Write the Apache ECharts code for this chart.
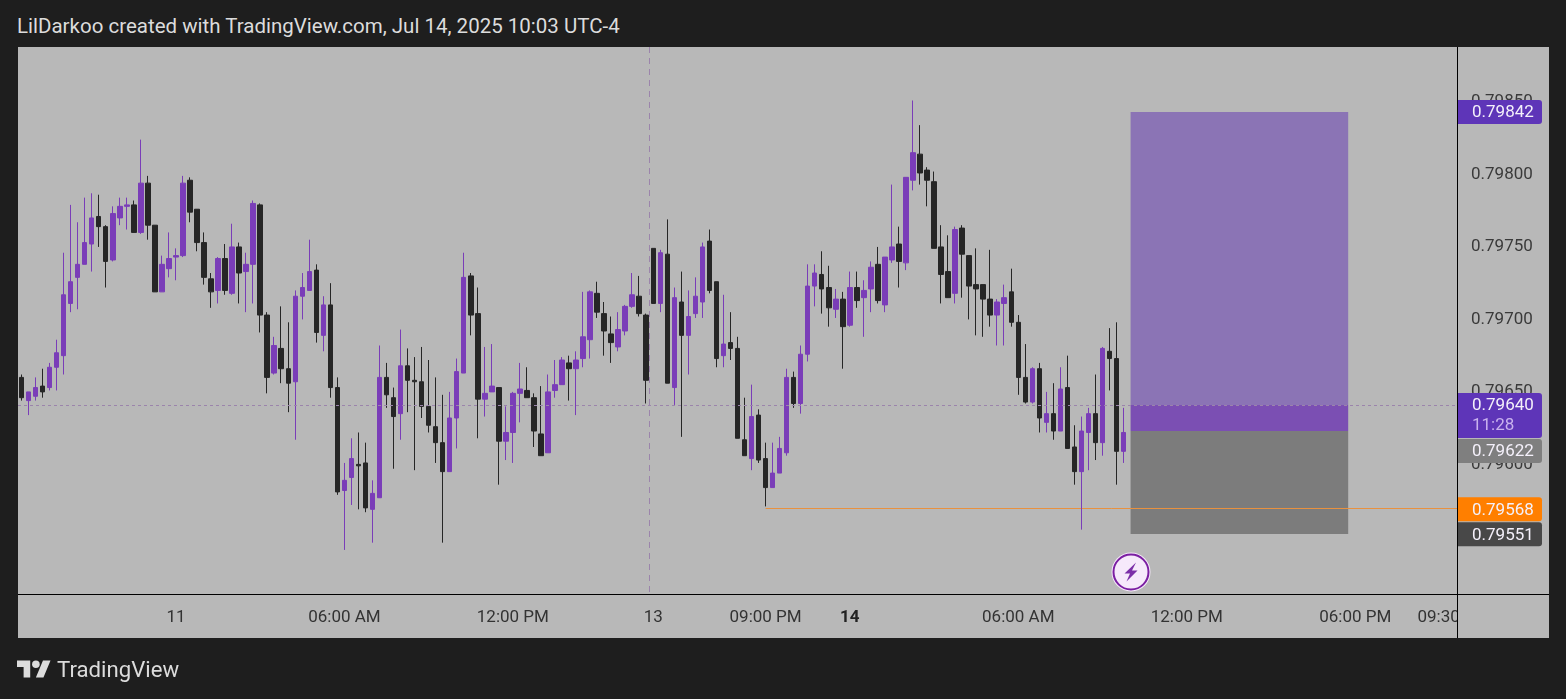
<!DOCTYPE html>
<html>
<head>
<meta charset="utf-8">
<title>TradingView snapshot</title>
<script src="https://cdn.jsdelivr.net/npm/echarts@6/dist/echarts.min.js"></script>
<style>
  html, body { margin: 0; padding: 0; width: 1566px; height: 699px; background: #1e1e1e; overflow: hidden; font-family: Roboto, sans-serif; }
  .header { position: absolute; left: 17px; top: 13px; font-size: 20.5px; line-height: 26px; color: #dcdcdc; white-space: nowrap; }
  .panel { position: absolute; left: 18px; top: 47px; width: 1531px; height: 591px; background: #b8b8b8; }
  #chart { position: absolute; left: 0; top: 0; width: 1566px; height: 699px; }
  .line { position: absolute; background: #000; }
  .corner { position: absolute; left: 1458px; top: 595px; width: 91px; height: 43px; background: #b8b8b8; }
  .bolt { position: absolute; left: 1110px; top: 552px; }
  .footer { position: absolute; left: 57px; top: 655px; font-size: 22.2px; line-height: 28px; color: #dcdcdc; }
  .logo { position: absolute; left: 17px; top: 660px; }
</style>
</head>
<body>
<div class="header">LilDarkoo created with TradingView.com, Jul 14, 2025 10:03 UTC-4</div>
<div class="panel"></div>
<div id="chart"></div>
<!-- frame lines and the cell under the price scale -->
<div class="corner"></div>
<div class="line" style="left:18px;top:594px;width:1531px;height:1px"></div>
<div class="line" style="left:1457px;top:47px;width:1px;height:591px"></div>
<svg class="bolt" width="42" height="42" viewBox="0 0 42 42">
  <circle cx="21" cy="20" r="19.5" fill="#f6e9fb"/>
  <circle cx="21" cy="20" r="17.5" fill="#f6e9fb" stroke="#7b1fa2" stroke-width="2"/>
  <path d="M26 10.5 L14.5 21.5 H20 L16.5 29.5 L27.5 18.5 H22 Z" fill="#7b2fa8"/>
</svg>
<svg class="logo" width="34" height="18" viewBox="0 4 36 18">
  <path fill="#dcdcdc" d="M14 22H7V11H0V4h14v18zM28 22h-8l7.5-18h8L28 22z"/>
  <circle fill="#dcdcdc" cx="20" cy="8" r="4"/>
</svg>
<div class="footer">TradingView</div>

<script>
// prices are in units of 0.00001, one entry per 15 minute candle
const opens = [
  79659,79643,79646,79653,79652,79666,79674,79710,79728,79737,
  79751,79770,79763,79740,79769,79777,79778,79759,79793,79764,
  79718,79734,79742,79743,79795,79775,79752,79727,79719,79741,
  79717,79749,79732,79737,79778,79702,79662,79679,79665,79656,
  79715,79719,79733,79688,79709,79652,79581,79590,79599,79600,
  79568,79576,79659,79645,79634,79667,79657,79656,79639,79625,
  79614,79594,79631,79662,79729,79703,79644,79649,79652,79615,
  79621,79648,79650,79645,79620,79607,79650,79654,79669,79665,
  79672,79685,79717,79703,79689,79680,79691,79708,79715,79702,
  79748,79710,79744,79652,79711,79688,79703,79711,79753,79725,
  79674,79683,79679,79616,79603,79633,79603,79583,79593,79607,
  79659,79641,79675,79722,79730,79721,79706,79713,79695,79721,
  79714,79720,79737,79709,79740,79751,79738,79795,79813,79802,
  79794,79749,79732,79717,79762,79743,79723,79723,79713,79702,
  79710,79718,79697,79659,79642,79665,79628,79634,79622,79652,
  79611,79594,79621,79634,79614,79677,79672,79608
];
const closes = [
  79645,79649,79652,79649,79666,79676,79716,79725,79737,79752,
  79769,79763,79739,79772,79777,79778,79759,79793,79764,79718,
  79737,79741,79743,79793,79773,79752,79728,79718,79741,79719,
  79749,79731,79737,79779,79702,79659,79681,79665,79655,79715,
  79721,79732,79690,79709,79652,79580,79588,79603,79598,79569,
  79579,79659,79647,79632,79667,79657,79656,79639,79626,79614,
  79594,79631,79663,79728,79702,79644,79648,79653,79615,79621,
  79648,79651,79645,79622,79605,79649,79654,79671,79665,79671,
  79687,79718,79704,79691,79683,79692,79708,79716,79703,79657,
  79710,79745,79655,79714,79688,79701,79715,79749,79719,79672,
  79682,79679,79617,79605,79632,79602,79583,79593,79610,79659,
  79641,79675,79722,79731,79720,79707,79713,79694,79721,79712,
  79719,79735,79712,79742,79749,79739,79797,79814,79800,79795,
  79748,79730,79714,79761,79744,79722,79720,79713,79702,79711,
  79714,79697,79659,79642,79665,79631,79634,79622,79651,79610,
  79594,79622,79634,79614,79679,79672,79608,79621
];
const highs = [
  79661,79649,79659,79665,79669,79685,79745,79778,79766,79783,
  79786,79785,79764,79777,79783,79783,79781,79823,79798,79764,
  79743,79759,79748,79798,79797,79775,79759,79731,79742,79751,
  79765,79752,79745,79781,79779,79704,79687,79708,79697,79719,
  79731,79754,79737,79715,79724,79659,79600,79617,79621,79614,
  79588,79681,79669,79652,79692,79679,79673,79680,79671,79659,
  79647,79649,79672,79745,79731,79721,79680,79682,79652,79639,
  79649,79669,79666,79648,79653,79661,79671,79673,79674,79677,
  79718,79719,79725,79711,79701,79704,79709,79731,79729,79703,
  79748,79747,79768,79721,79732,79719,79728,79752,79761,79725,
  79716,79704,79687,79645,79654,79637,79614,79614,79618,79665,
  79663,79681,79737,79737,79746,79736,79720,79718,79732,79732,
  79726,79739,79749,79742,79792,79763,79797,79850,79833,79804,
  79801,79764,79757,79763,79764,79743,79748,79723,79747,79713,
  79723,79734,79702,79682,79666,79669,79649,79655,79666,79674,
  79626,79632,79638,79661,79680,79693,79697,79638
];
const lows = [
  79643,79633,79643,79645,79650,79650,79661,79704,79706,79737,
  79732,79749,79721,79739,79764,79761,79759,79758,79754,79718,
  79718,79728,79726,79742,79766,79746,79723,79707,79710,79716,
  79716,79710,79704,79710,79690,79648,79661,79655,79635,79616,
  79699,79719,79683,79677,79645,79578,79540,79571,79568,79566,
  79545,79576,79638,79596,79616,79635,79595,79631,79621,79600,
  79545,79594,79610,79662,79688,79617,79632,79649,79585,79602,
  79600,79628,79645,79611,79605,79607,79645,79654,79643,79633,
  79666,79672,79700,79674,79669,79677,79688,79707,79701,79641,
  79710,79704,79655,79640,79618,79661,79700,79700,79717,79666,
  79666,79671,79617,79605,79595,79600,79570,79583,79593,79605,
  79638,79634,79670,79708,79703,79694,79700,79665,79694,79707,
  79687,79704,79710,79704,79738,79721,79733,79788,79792,79777,
  79748,79710,79714,79710,79714,79699,79688,79687,79694,79681,
  79681,79694,79647,79641,79641,79621,79621,79616,79622,79610,
  79585,79554,79595,79602,79605,79650,79585,79600
];

// time scale: 205 slots, labels sit on these slots
const slotCount = 205;
const tickSlots = [22, 46, 70, 90, 106, 118, 142, 166, 190, 204];
const tickLabels = ['11', '06:00 AM', '12:00 PM', '13', '09:00 PM', '14', '06:00 AM', '12:00 PM', '06:00 PM', '09:30 PM'];
const priceTicks = [79850, 79800, 79750, 79700, 79650, 79600, 79550];

// long position drawing and the horizontal levels
const positionStart = 158;
const positionEnd = 189;
const targetPrice = 79842;
const entryPrice = 79622;
const stopPrice = 79551;
const lastPrice = 79640;
const alertPrice = 79568;
const alertStart = 106;
const crosshairSlot = 90;
const countdown = '11:28';

const tagPrices = [targetPrice, lastPrice, entryPrice, alertPrice, stopPrice];
const tagColors = ['#5e35b8', '#5e35b8', '#7f7f7f', '#ff7f00', '#484848'];

const categories = Array.from({ length: slotCount }, (_, i) => i);
const candles = opens.map((o, i) => [o, closes[i], lows[i], highs[i]]);
const formatPrice = v => (v / 100000).toFixed(5);

let tagBottom = 0;

function renderTag(params, api) {
  if (params.dataIndex === 0) tagBottom = 0;
  const price = api.value(1);
  const cs = params.coordSys;
  const left = cs.x + cs.width + 1;
  const isLast = price === lastPrice;
  const height = isLast ? 45 : 24;
  // tags that would overlap get pushed down, same as on the real price scale
  const top = Math.max(api.coord([0, price])[1] - 12, tagBottom + 1);
  tagBottom = top + height;
  const children = [
    {
      type: 'rect',
      shape: { x: left, y: top, width: 84, height: height, r: [0, 3, 3, 0] },
      style: { fill: tagColors[params.dataIndex] }
    },
    {
      type: 'text',
      style: { text: formatPrice(price), x: left + 14, y: top + 13, fill: '#f4f0fa', font: '17px Roboto', textVerticalAlign: 'middle' }
    }
  ];
  if (isLast) {
    children.push({
      type: 'text',
      style: { text: countdown, x: left + 14, y: top + 33, fill: '#c9b2ee', font: '17px Roboto', textVerticalAlign: 'middle' }
    });
  }
  return { type: 'group', children: children };
}

function renderAlert(params, api) {
  const cs = params.coordSys;
  const start = api.coord([api.value(0), api.value(1)]);
  const y = Math.floor(start[1]) - 0.5;
  return {
    type: 'line',
    shape: { x1: start[0], y1: y, x2: cs.x + cs.width, y2: y },
    style: { stroke: '#e8913f', lineWidth: 1 }
  };
}

// the vertical dashed cursor sits a little left of the candle centre
function renderCrosshair(params, api) {
  const cs = params.coordSys;
  const x = Math.round(api.coord([api.value(0), cs.y])[0]) - 3.5;
  return {
    type: 'line',
    shape: { x1: x, y1: cs.y, x2: x, y2: cs.y + cs.height },
    style: { stroke: '#9b84ab', lineWidth: 1, lineDash: [6, 5] }
  };
}

const chart = echarts.init(document.getElementById('chart'));

chart.setOption({
  animation: false,
  grid: { left: 18, right: 109, top: 47, height: 547 },
  xAxis: {
    type: 'category',
    data: categories,
    boundaryGap: true,
    axisLine: { show: false },
    axisTick: { show: false },
    splitLine: { show: false },
    axisLabel: {
      interval: i => tickSlots.includes(i),
      margin: 15,
      color: '#333',
      fontFamily: 'Roboto',
      fontSize: 17,
      formatter: (v, i) => {
        const label = tickLabels[tickSlots.indexOf(i)];
        return label === '14' ? '{bold|14}' : label;
      },
      rich: { bold: { fontWeight: 'bold', fontFamily: 'Roboto', fontSize: 17, color: '#222' } }
    }
  },
  yAxis: {
    type: 'value',
    position: 'right',
    min: 79509.6,
    max: 79886.9,
    scale: true,
    axisLine: { show: false },
    axisTick: { show: false },
    splitLine: { show: false },
    axisLabel: {
      customValues: priceTicks,
      margin: 14,
      formatter: v => '{p|' + formatPrice(v) + '}',
      rich: { p: { color: '#3a3a3a', fontFamily: 'Roboto', fontSize: 17, padding: [3, 0, 0, 0] } }
    }
  },
  series: [
    {
      type: 'custom',
      z: 1,
      silent: true,
      renderItem: renderAlert,
      data: [[alertStart, alertPrice]]
    },
    {
      type: 'custom',
      z: 1,
      silent: true,
      renderItem: renderCrosshair,
      data: [[crosshairSlot]]
    },
    {
      type: 'candlestick',
      data: candles,
      barWidth: 5,
      itemStyle: { color: '#7a3db8', color0: '#262626', borderColor: '#7a3db8', borderColor0: '#262626', borderWidth: 1 },
      markArea: {
        silent: true,
        data: [
          [{ xAxis: positionStart, yAxis: targetPrice, itemStyle: { color: '#8b74b5', opacity: 1 } }, { xAxis: positionEnd, yAxis: lastPrice }],
          [{ xAxis: positionStart, yAxis: lastPrice, itemStyle: { color: '#7b4fb3', opacity: 1 } }, { xAxis: positionEnd, yAxis: entryPrice }],
          [{ xAxis: positionStart, yAxis: entryPrice, itemStyle: { color: '#777777', opacity: 0.93 } }, { xAxis: positionEnd, yAxis: stopPrice }]
        ]
      },
      markLine: {
        silent: true,
        symbol: 'none',
        label: { show: false },
        lineStyle: { color: '#9b84ab', width: 1, type: [3, 3] },
        data: [{ yAxis: lastPrice }]
      }
    },
    {
      type: 'custom',
      z: 10,
      silent: true,
      clip: false,
      renderItem: renderTag,
      data: tagPrices.map(p => [0, p])
    }
  ]
});
</script>
</body>
</html>
